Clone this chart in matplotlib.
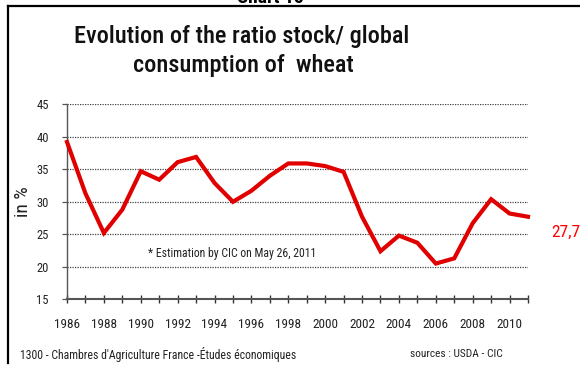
import matplotlib
matplotlib.use("Agg")
import matplotlib.pyplot as plt
from matplotlib import font_manager
from matplotlib.lines import Line2D

# Data: ratio of world wheat stocks to consumption (%)
years = list(range(1986, 2012))
ratio = [39.2, 31.3, 25.2, 28.8, 34.7, 33.4, 36.1, 36.9, 32.9, 30.0,
         31.7, 34.0, 35.9, 35.9, 35.5, 34.6, 27.7, 22.4, 24.8, 23.7,
         20.5, 21.3, 26.7, 30.4, 28.2, 27.7]
ytick_vals = [15, 20, 25, 30, 35, 40, 45]
xlabel_years = list(range(1986, 2011, 2))
last_label = "27,7%"

available = {f.name for f in font_manager.fontManager.ttflist}
narrow = next((n for n in ["Liberation Sans Narrow", "Arial Narrow", "Roboto Condensed",
                           "Archivo Narrow", "PT Sans Narrow", "Liberation Sans"]
               if n in available), "DejaVu Sans")
plt.rcParams["font.family"] = [narrow, "DejaVu Sans"]

W, H, DPI = 580, 367, 100
fig = plt.figure(figsize=(W / DPI, H / DPI), dpi=DPI)
fig.patch.set_facecolor("white")

def fx(px):
    return px / W

def fy(py):
    return 1 - py / H

# outer frame (left and top edges visible)
fig.add_artist(Line2D([fx(8), fx(8)], [fy(5.5), fy(363)], color="black", lw=1.6,
                      transform=fig.transFigure))
fig.add_artist(Line2D([fx(8), fx(600)], [fy(5.5), fy(5.5)], color="black", lw=1.6,
                      transform=fig.transFigure))

fig.text(fx(270), fy(3), "Chart 15", ha="center", va="baseline",
         fontsize=14, fontweight="bold", color="black")

fig.text(fx(242), fy(37), "Evolution of the ratio stock/ global", ha="center",
         va="center", fontsize=17.5, fontweight="medium", color="#111111")
fig.text(fx(243), fy(65.5), "consumption of  wheat", ha="center",
         va="center", fontsize=17.5, fontweight="medium", color="#111111")

ax = fig.add_axes([fx(67), fy(299.3), fx(528) - fx(67), fy(104.3) - fy(299.3)])
ax.set_xlim(1986, 2011)
ax.set_ylim(15, 45)

for v in ytick_vals[1:]:
    ax.axhline(v, color="#444444", lw=0.9, linestyle=(0, (1, 1)), zorder=1)

ax.plot(years, ratio, color="#e00000", lw=3.0, solid_joinstyle="miter",
        zorder=3, clip_on=False)

for s in ["top", "right"]:
    ax.spines[s].set_visible(False)
ax.spines["left"].set_color("#555555")
ax.spines["left"].set_linewidth(1.0)
ax.spines["bottom"].set_color("#555555")
ax.spines["bottom"].set_linewidth(1.5)

ax.set_yticks(ytick_vals)
ax.set_yticklabels([str(v) for v in ytick_vals])
ax.tick_params(axis="y", direction="out", length=3.5, width=0.9, color="#555555",
               labelsize=9, pad=9.5, labelcolor="#222222")

ax.set_xticks(years)
ax.set_xticklabels([str(y) if y in xlabel_years else "" for y in years])
ax.tick_params(axis="x", direction="inout", length=6, width=1.0, color="#333333",
               labelsize=9.5, pad=10.5, labelcolor="#222222")

ax.set_ylabel("in %", fontsize=14, color="#222222", labelpad=3)

ax.text(1990.4, 22.0, "* Estimation by CIC on May 26, 2011", fontsize=8.5,
        color="#222222", ha="left", va="center")

fig.text(fx(551), fy(232), last_label, ha="left", va="center", fontsize=12.5,
         color="#ff0000")

fig.text(fx(20), fy(354), "1300 - Chambres d'Agriculture France -Études économiques",
         ha="left", va="center", fontsize=8.5, color="#222222")
fig.text(fx(503), fy(354), "sources : USDA - CIC", ha="right", va="center",
         fontsize=8.2, color="#222222")

fig.savefig("out.png", dpi=DPI, facecolor="white")
